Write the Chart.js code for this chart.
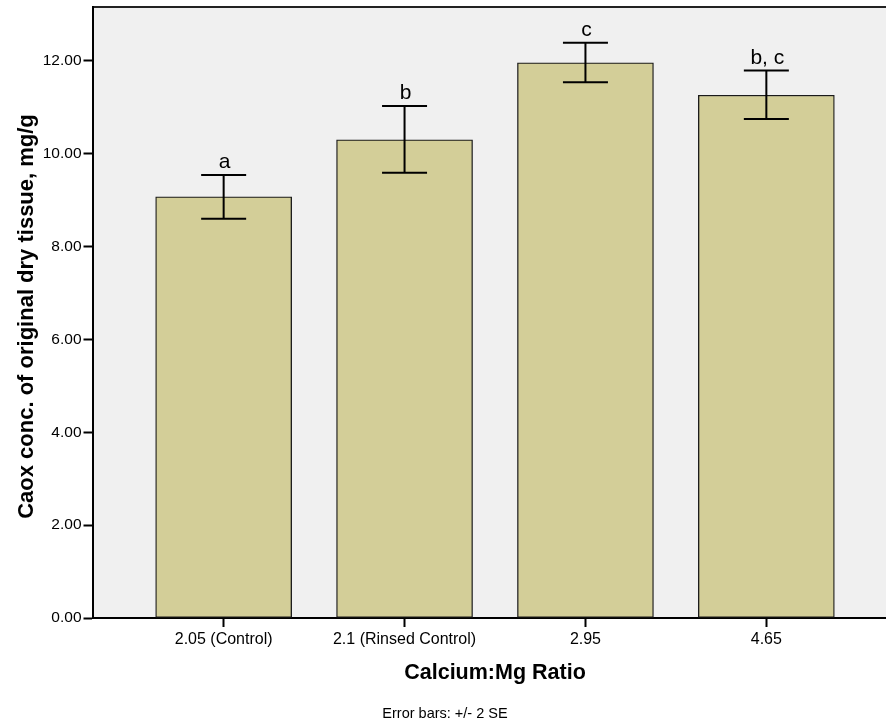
<!DOCTYPE html>
<html>
<head>
<meta charset="utf-8">
<script src="https://cdn.jsdelivr.net/npm/chart.js@4/dist/chart.umd.min.js"></script>
<style>
html,body{margin:0;padding:0;overflow:hidden;background:#fff;width:886px;height:723px;}
canvas{display:block;}
</style>
</head>
<body>
<canvas id="c" width="910" height="723"></canvas>
<script>
const categories = ['2.05 (Control)', '2.1 (Rinsed Control)', '2.95', '4.65'];
const means = [9.07, 10.30, 11.96, 11.26];
const errLow = [8.60, 9.59, 11.54, 10.75];
const errHigh = [9.54, 11.03, 12.39, 11.79];
const letters = ['a', 'b', 'c', 'b, c'];
const yTicks = [0, 2, 4, 6, 8, 10, 12];
const yTitle = 'Caox conc. of original dry tissue, mg/g';
const xTitle = 'Calcium:Mg Ratio';
const footnote = 'Error bars: +/- 2 SE';

const FONT = 'Arial, "Liberation Sans", sans-serif';

const decor = {
  id: 'decor',
  beforeDraw(chart) {
    const {ctx, chartArea: a} = chart;
    ctx.save();
    ctx.fillStyle = '#f0f0f0';
    ctx.fillRect(a.left, a.top, a.right - a.left, a.bottom - a.top);
    ctx.strokeStyle = '#222';
    ctx.lineWidth = 2;
    ctx.beginPath();
    ctx.moveTo(a.left, a.top);
    ctx.lineTo(a.right, a.top);
    ctx.lineTo(a.right, a.bottom);
    ctx.stroke();
    ctx.restore();
  },
  afterDatasetsDraw(chart) {
    const {ctx} = chart;
    const xs = chart.scales.x, ys = chart.scales.y;
    ctx.save();
    ctx.strokeStyle = '#000';
    ctx.lineWidth = 2;
    ctx.fillStyle = '#000';
    ctx.font = '21px ' + FONT;
    ctx.textAlign = 'center';
    ctx.textBaseline = 'alphabetic';
    for (let i = 0; i < means.length; i++) {
      const x = xs.getPixelForValue(i);
      const yl = ys.getPixelForValue(errLow[i]);
      const yh = ys.getPixelForValue(errHigh[i]);
      const hw = 22.5;
      ctx.beginPath();
      ctx.moveTo(x, yl); ctx.lineTo(x, yh);
      ctx.moveTo(x - hw, yl); ctx.lineTo(x + hw, yl);
      ctx.moveTo(x - hw, yh); ctx.lineTo(x + hw, yh);
      ctx.stroke();
      ctx.fillText(letters[i], x + 1, yh - 7);
    }
    ctx.restore();
  },
  afterDraw(chart) {
    const {ctx, chartArea: a} = chart;
    ctx.save();
    ctx.fillStyle = '#000';
    ctx.textAlign = 'center';
    ctx.textBaseline = 'alphabetic';
    ctx.font = 'bold 21.5px ' + FONT;
    ctx.fillText(xTitle, (a.left + a.right) / 2, 679);
    ctx.save();
    ctx.font = 'bold 22px ' + FONT;
    ctx.translate(33, 316.5);
    ctx.rotate(-Math.PI / 2);
    ctx.fillText(yTitle, 0, 0);
    ctx.restore();
    ctx.font = '14.5px ' + FONT;
    ctx.fillText(footnote, 445, 718);
    ctx.restore();
  }
};

new Chart(document.getElementById('c'), {
  type: 'bar',
  data: {
    datasets: [{
      data: means.map((v, i) => ({x: i, y: v})),
      backgroundColor: '#d3ce98',
      borderColor: '#1a1a1a',
      borderWidth: 1.3,
      borderSkipped: false,
      barThickness: 136
    }]
  },
  options: {
    responsive: false,
    animation: false,
    events: [],
    layout: {padding: {top: 7, right: 12.5, bottom: 0, left: 0}},
    plugins: {legend: {display: false}, tooltip: {enabled: false}},
    scales: {
      x: {
        type: 'linear',
        offset: false,
        min: -0.725,
        max: 3.725,
        afterBuildTicks(s) { s.ticks = categories.map((c, i) => ({value: i})); },
        afterFit(s) { s.height = 105; s.paddingLeft = 0; s.paddingRight = 0; },
        ticks: {
          autoSkip: false,
          maxRotation: 0,
          padding: 3,
          color: '#000',
          font: {family: FONT, size: 16},
          callback: (v) => categories[v]
        },
        grid: {offset: false, drawOnChartArea: false, drawTicks: true, tickLength: 9, tickWidth: 2, tickColor: '#000'},
        border: {display: true, color: '#000', width: 2}
      },
      y: {
        min: 0,
        max: 13.16,
        afterBuildTicks(s) { s.ticks = yTicks.map(v => ({value: v})); },
        afterFit(s) { s.width = 92.5; s.paddingTop = 0; s.paddingBottom = 0; },
        ticks: {
          padding: 2,
          color: '#000',
          font: {family: FONT, size: 15.5},
          callback: (v) => Number(v).toFixed(2)
        },
        grid: {drawOnChartArea: false, drawTicks: true, tickLength: 9, tickWidth: 2, tickColor: '#000'},
        border: {display: true, color: '#000', width: 2}
      }
    }
  },
  plugins: [decor]
});
</script>
</body>
</html>
